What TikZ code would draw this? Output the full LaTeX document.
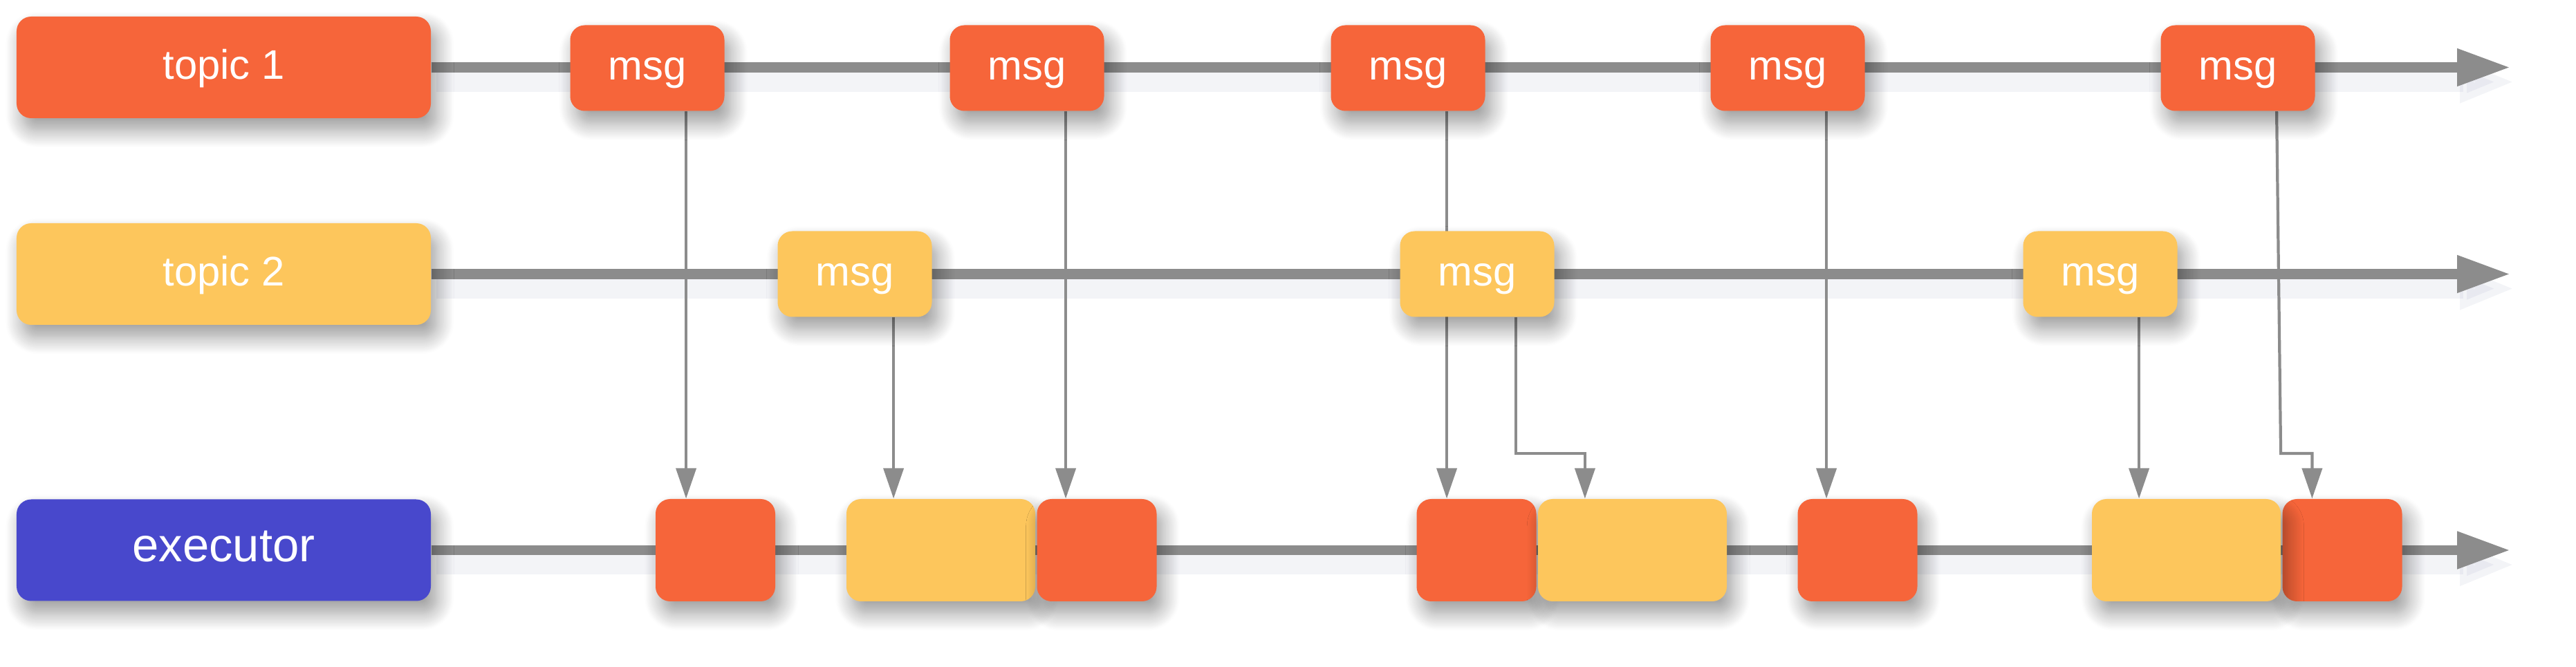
\documentclass[tikz,border=0pt]{standalone}
\usepackage{fontspec}
\setmainfont{Liberation Sans}
\usepackage{tikz}
\usetikzlibrary{calc, arrows.meta, shadows.blur, backgrounds}
\tikzset{>=latex}
\definecolor{myred}{RGB}{246, 101, 58}
\definecolor{myyellow}{RGB}{253, 198, 92}
\definecolor{myblue}{RGB}{72, 72, 204}
\definecolor{mygray}{RGB}{140, 140, 140}
\definecolor{myshadow}{RGB}{120, 128, 170}

\tikzset{
	box/.style = {rounded corners = 6pt, inner sep = 0pt, text = white, text height = 11pt, text depth = 1.5pt,
		blur shadow = {shadow xshift = 2.5pt, shadow yshift = -5pt, shadow blur radius = 7pt, shadow blur steps = 14, shadow opacity = 40}},
	topicbox/.style = {box, minimum width = 5.99cm, minimum height = 1.47cm, font = \fontsize{17}{20}\selectfont},
	msgbox/.style = {box, minimum width = 2.23cm, minimum height = 1.24cm, font = \fontsize{17}{20}\selectfont},
	jobbox/.style = {box, minimum height = 1.48cm},
	timeline/.style = {mygray, line width = 4pt, -{Triangle[width = 0.51cm, length = 0.77cm]}},
	timeshadow/.style = {myshadow, line width = 8pt, opacity = 0.09, -{Triangle[width = 0.55cm, length = 0.8cm]}},
	call/.style = {mygray, line width = 1.2pt, -{Triangle[width = 0.29cm, length = 0.44cm]}}
}

\begin{document}
\begin{tikzpicture}
\useasboundingbox (0, 0) rectangle (37.25, -9.65);

% topics and executor
\node[topicbox, fill = myred] (topic1) at (3.235, -0.975) {topic 1};
\node[topicbox, fill = myyellow] (topic2) at (3.235, -3.965) {topic 2};
\node[topicbox, fill = myblue, font = \fontsize{19.6}{23}\selectfont] (exec) at (3.235, -7.96) {executor};

\coordinate (end1) at (36.30, -0.975);
\coordinate (end2) at (36.30, -3.965);
\coordinate (end3) at (36.30, -7.96);
\coordinate (bend) at (0, -6.56);

% messages
\foreach \x [count = \i] in {9.36, 14.85, 20.36, 25.85, 32.36}{
	\node[msgbox, fill = myred] (t1m\i) at (\x, -0.985) {msg};
}
\foreach \x [count = \i] in {12.36, 21.36, 30.37}{
	\node[msgbox, fill = myyellow] (t2m\i) at (\x, -3.965) {msg};
}

% callbacks on the executor
\foreach \x / \w / \c [count = \i] in {10.345/1.73/myred, 13.605/2.73/myyellow, 15.86/1.73/myred, 21.35/1.73/myred,
	23.605/2.73/myyellow, 26.86/1.73/myred, 33.87/1.73/myred, 31.615/2.73/myyellow}{
	\node[jobbox, minimum width = \w cm, fill = \c] (e\i) at (\x, -7.96) {};
}

\begin{scope}[on background layer]
	\foreach \a / \b in {topic1/end1, topic2/end2, exec/end3}{
		\draw[timeshadow] ([xshift = 2pt, yshift = -6pt]\a.east) -- ([xshift = 2pt, yshift = -6pt]\b);
		\draw[timeline] (\a.east) -- (\b);
	}
	\foreach \m / \e in {t1m1/e1, t2m1/e2, t1m2/e3, t1m3/e4, t1m4/e6, t2m3/e8}{
		\path ($(\m.south west)!0.75!(\m.south east)$) coordinate (s);
		\draw[call] (s) -- (s |- \e.north);
	}
	\path ($(t2m2.south west)!0.75!(t2m2.south east)$) coordinate (s2)
		($(e5.north west)!0.25!(e5.north east)$) coordinate (f2);
	\draw[call] (s2) -- (s2 |- bend) -| (f2);
	\path ($(t1m5.south west)!0.75!(t1m5.south east)$) coordinate (s5)
		($(e7.north west)!0.25!(e7.north east)$) coordinate (f5);
	\draw[call] (s5) -- ($(s5 |- bend) + (0.06, 0)$) -| (f5);
\end{scope}

\end{tikzpicture}
\end{document}
